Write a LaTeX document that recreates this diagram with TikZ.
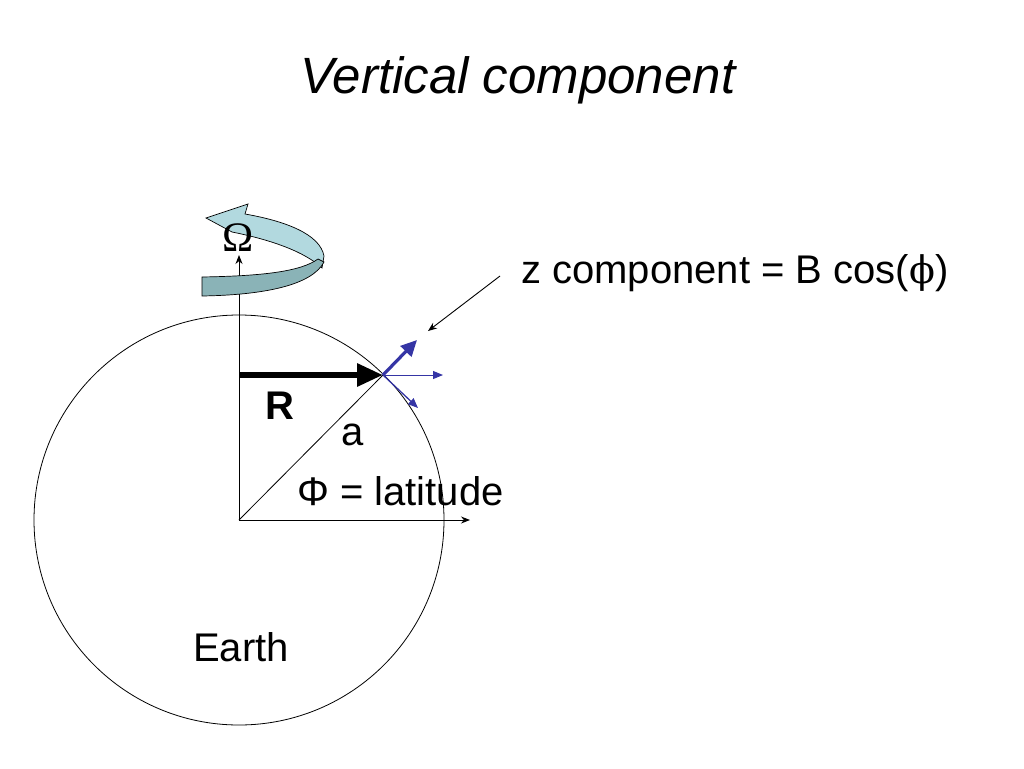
\documentclass[tikz,border=0pt]{standalone}
\usepackage{fontspec}
\setmainfont{Liberation Sans}
\newfontfamily\omegafont{Liberation Serif}
\newfontfamily\phifont{DejaVu Serif}
\usetikzlibrary{arrows.meta}
\definecolor{bandlight}{HTML}{B2D9DF}
\definecolor{banddark}{HTML}{8AB3B7}
\definecolor{vecblue}{HTML}{3535A5}
\tikzset{
  lbl/.style={font=\fontsize{40}{40}\selectfont, inner sep=0pt, anchor=base},
  thinarrow/.style={-{Stealth[length=9pt,width=7pt]}, line width=0.9pt},
  bluevec/.style={vecblue, -{Triangle[length=10pt,width=8pt]}, line width=1pt},
}
\begin{document}
\begin{tikzpicture}[x=1pt,y=-1pt]
        \useasboundingbox (0,0) rectangle (1024,768);
        \coordinate (O) at (239,520);
        \coordinate (P) at (383,375);
        \coordinate (axtop) at (239,255);
        \coordinate (eqend) at (470,520);
        \coordinate (Rstart) at (239,375);
        \coordinate (ptr) at (500,276);
        \coordinate (ptrtip) at (428,331);
        \coordinate (zvec) at (417,340);
        \coordinate (hvec) at (443,375);
        \coordinate (svec) at (418,408);
        % earth, axes and radius
        \draw[line width=0.8pt] (O) circle[radius=205pt];
        \draw[thinarrow] (O) -- (axtop);
        \draw[thinarrow] (O) -- (eqend);
        \draw[line width=0.8pt] (O) -- (P);
        \draw[line width=6pt, -{Triangle[length=26pt,width=22pt]}] (Rstart) -- (P);
        % field vectors
        \draw[bluevec, line width=3.2pt, -{Triangle[length=16pt,width=15pt]}] (P) -- (zvec);
        \draw[bluevec] (P) -- (hvec);
        \draw[bluevec, line width=1.3pt] (P) -- (svec);
        \draw[thinarrow] (ptr) -- (ptrtip);
        % rotation band
        \filldraw[fill=bandlight, line width=0.7pt] (206,218) -- (248,204) -- (245,214)
            .. controls (285,221) and (320,234) .. (324,256) -- (322,268)
            .. controls (305,252) and (272,240) .. (232,232) -- cycle;
        \filldraw[fill=banddark, line width=0.7pt] (318,259)
            .. controls (300,272) and (260,276) .. (202,277) -- (202,296)
            .. controls (265,295) and (312,285) .. (324,262) -- cycle;
        \node[font=\omegafont\fontsize{42}{42}\selectfont, inner sep=0pt] (omega) at (238,238) {Ω};
        % labels
        \node[lbl, font=\fontsize{51}{51}\selectfont\itshape] (title) at (518,93) {Vertical component};
        \node[lbl, anchor=base west] (zcomp) at (521,283) {z component = B cos({\phifont\fontsize{38}{38}\selectfont ϕ})};
        \node[lbl, font=\fontsize{40}{40}\selectfont\bfseries] (rlbl) at (280,419) {R};
        \node[lbl] (albl) at (353,445) {a};
        \node[lbl, anchor=base west] (lat) at (297,505) {Φ = latitude};
        \node[lbl] (earth) at (241,661) {Earth};
\end{tikzpicture}
\end{document}
